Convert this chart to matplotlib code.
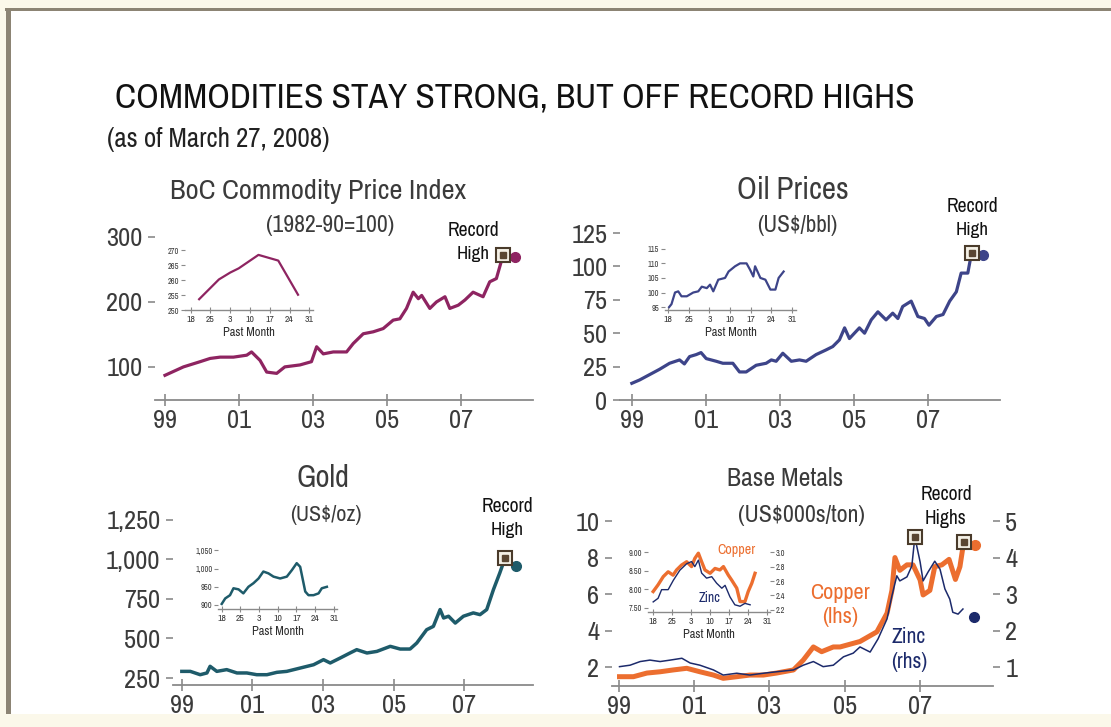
import matplotlib
matplotlib.use("Agg")
import matplotlib.pyplot as plt
from matplotlib import font_manager
from matplotlib.patches import Rectangle
from matplotlib.ticker import FuncFormatter

# prefer a narrow face if one is installed
_names = sorted({f.name for f in font_manager.fontManager.ttflist})
_narrow = [n for n in _names if 'Narrow' in n or 'Condensed' in n]
plt.rcParams['font.family'] = (_narrow[:1] or []) + ['DejaVu Sans']
plt.rcParams['font.stretch'] = 'condensed'

# ---- data -------------------------------------------------------------
years_ticks = [1999, 2001, 2003, 2005, 2007]
year_labels = ['99', '01', '03', '05', '07']
day_ticks = [0, 7, 14, 21, 28, 35, 42]          # days since Feb 18, 2008
day_labels = ['18', '25', '3', '10', '17', '24', '31']

boc_t = [1999.0, 1999.5, 1999.95, 2000.22, 2000.49, 2000.85, 2001.21, 2001.34, 2001.57,
         2001.75, 2002.02, 2002.24, 2002.65, 2002.96, 2003.1, 2003.28, 2003.55, 2003.91,
         2004.09, 2004.36, 2004.63, 2004.9, 2005.17, 2005.35, 2005.53, 2005.71, 2005.85,
         2005.94, 2006.16, 2006.34, 2006.57, 2006.7, 2006.93, 2007.11, 2007.33, 2007.6,
         2007.78, 2007.96, 2008.14]
boc_v = [87, 100, 108, 113, 115, 115, 118, 123, 110, 92, 90, 100, 103, 108, 131, 120, 123,
         123, 136, 151, 154, 159, 172, 174, 190, 215, 205, 210, 190, 200, 208, 190, 195, 203,
         215, 208, 231, 236, 272]
boc_latest = (2008.46, 269)
boc_day = [3, 10, 14, 17, 24, 31, 38]
boc_day_v = [253.6, 260.2, 262.5, 263.9, 268.4, 266.5, 255.1]

oil_t = [1999.0, 1999.21, 1999.48, 1999.75, 2000.02, 2000.29, 2000.42, 2000.56, 2000.74,
         2000.87, 2001.01, 2001.28, 2001.46, 2001.73, 2001.91, 2002.09, 2002.36, 2002.63,
         2002.77, 2002.9, 2003.08, 2003.31, 2003.53, 2003.71, 2003.98, 2004.25, 2004.43,
         2004.61, 2004.75, 2004.88, 2005.15, 2005.29, 2005.47, 2005.65, 2005.87, 2006.05,
         2006.19, 2006.32, 2006.55, 2006.73, 2006.91, 2007.03, 2007.23, 2007.41, 2007.59,
         2007.77, 2007.9, 2008.08, 2008.18]
oil_v = [12.5, 15, 19, 23, 27.5, 30, 27, 32.5, 34, 35.5, 31, 29, 27.5, 27.5, 21, 21, 26,
         27.5, 30, 29, 35, 29, 30, 29, 34, 37.5, 40, 45, 54, 46, 54, 50, 60, 66, 60, 65, 61,
         70, 74, 62.5, 61, 56, 62.5, 64, 74, 81, 95, 95, 110]
oil_latest = (2008.49, 108.8)
oil_day = [0.3, 1.1, 2.3, 3.4, 4.5, 6.3, 8.5, 10.2, 11.4, 13.1, 14.2, 15.3, 17.0, 19.3,
           20.5, 22.7, 24.4, 26.6, 27.8, 28.9, 29.5, 31.3, 33.0, 34.7, 36.4, 37.5, 39.2]
oil_day_v = [95, 96, 100, 100.4, 98.7, 98.7, 100, 100.4, 102, 101.5, 102.7, 100.4, 104.4,
             105, 107.2, 109, 110, 110, 107.8, 105.5, 109, 105, 104.4, 101, 101, 105, 107.2]

gold_t = [1999.0, 1999.24, 1999.52, 1999.71, 1999.8, 1999.99, 2000.27, 2000.56, 2000.84,
          2001.12, 2001.41, 2001.69, 2001.97, 2002.35, 2002.73, 2003.01, 2003.2, 2003.48,
          2003.76, 2003.95, 2004.24, 2004.52, 2004.9, 2005.18, 2005.46, 2005.65, 2005.93,
          2006.12, 2006.31, 2006.41, 2006.55, 2006.74, 2006.97, 2007.25, 2007.44, 2007.63,
          2007.82, 2008.0, 2008.15]
gold_v = [292, 292, 271, 282, 324, 292, 303, 282, 282, 271, 271, 286, 292, 313, 334, 366,
          345, 376, 408, 429, 408, 418, 450, 433, 433, 471, 555, 576, 682, 629, 640, 597,
          640, 661, 650, 682, 808, 913, 1008]
gold_latest = (2008.46, 957)
gold_day = [0, 1.3, 3.1, 4.4, 6.3, 8.1, 10.0, 11.9, 13.8, 15.6, 17.5, 19.4, 21.9, 24.4,
            26.3, 28.1, 29.4, 31.3, 32.5, 34.4, 36.3, 37.5, 39.4]
gold_day_v = [903, 918, 927, 946, 943, 932, 950, 960, 973, 992, 987, 978, 973, 978, 996,
              1015, 1005, 937, 927, 927, 932, 946, 950]

copper_t = [1999.01, 1999.38, 1999.74, 2000.09, 2000.44, 2000.8, 2001.15, 2001.51, 2001.77,
            2002.13, 2002.48, 2002.84, 2003.19, 2003.64, 2003.9, 2004.17, 2004.39, 2004.7,
            2004.88, 2005.41, 2005.86, 2006.13, 2006.26, 2006.34, 2006.47, 2006.66, 2006.82,
            2007.01, 2007.09, 2007.27, 2007.4, 2007.59, 2007.78, 2007.95, 2008.07, 2008.17]
copper_v = [1.47, 1.47, 1.67, 1.74, 1.84, 1.93, 1.74, 1.56, 1.38, 1.47, 1.56, 1.56, 1.67,
            1.84, 2.38, 3.1, 2.84, 3.1, 3.1, 3.4, 3.93, 4.95, 6.2, 8.0, 7.3, 7.6, 7.6, 6.77,
            5.95, 6.2, 7.5, 7.6, 7.9, 6.8, 7.5, 8.85]
copper_latest = (2008.47, 8.68)

zinc_t = [1999.01, 1999.29, 1999.56, 1999.82, 2000.09, 2000.36, 2000.67, 2000.89, 2001.15,
          2001.51, 2001.77, 2002.13, 2002.48, 2002.84, 2003.19, 2003.64, 2003.9, 2004.17,
          2004.43, 2004.7, 2004.97, 2005.23, 2005.41, 2005.68, 2005.89, 2006.13, 2006.26,
          2006.39, 2006.47, 2006.66, 2006.79, 2006.87, 2007.01, 2007.09, 2007.22, 2007.4,
          2007.54, 2007.67, 2007.8, 2007.88, 2008.02, 2008.15]
zinc_v = [1.01, 1.05, 1.15, 1.19, 1.15, 1.19, 1.24, 1.11, 1.05, 0.92, 0.78, 0.83, 0.78,
          0.83, 0.87, 0.92, 1.05, 1.15, 1.01, 1.05, 1.28, 1.38, 1.55, 1.41, 1.77, 2.32,
          2.95, 3.5, 3.36, 3.47, 3.77, 4.56, 3.88, 3.36, 3.6, 3.9, 3.68, 3.14, 2.86, 2.5,
          2.45, 2.59]
zinc_latest = (2008.44, 2.37)

copper_day = [0.1, 1.9, 3.8, 5.6, 7.4, 8.7, 10.5, 12.4, 14.2, 15.4, 16.7, 17.9, 19.1, 21.0,
              22.8, 24.6, 25.9, 27.7, 28.9, 30.8, 32.0, 33.8, 35.0, 36.3, 37.5]
copper_day_v = [7.94, 8.12, 8.34, 8.47, 8.38, 8.52, 8.65, 8.74, 8.61, 8.83, 8.97, 8.74,
                8.52, 8.43, 8.56, 8.52, 8.61, 8.38, 8.25, 8.03, 7.67, 7.67, 7.94, 8.16, 8.43]
zinc_day = [0.1, 1.9, 3.2, 5.6, 7.5, 9.9, 12.4, 14.2, 15.4, 16.7, 17.9, 19.7, 21.6, 23.4,
            25.3, 26.5, 28.3, 30.1, 32.0, 33.8, 35.7]
zinc_day_v = [2.31, 2.36, 2.48, 2.48, 2.61, 2.75, 2.84, 2.87, 2.80, 2.89, 2.71, 2.64, 2.66,
              2.57, 2.50, 2.54, 2.38, 2.27, 2.25, 2.29, 2.27]

# ---- figure -----------------------------------------------------------
W, H = 1111, 727
fig = plt.figure(figsize=(W / 100, H / 100), dpi=100)
fig.patch.set_facecolor('white')
renderer = fig.canvas.get_renderer()

CREAM = '#fbf8ea'
BORDER = '#8c8474'
TXT = '#3b3b3b'
TICK = '#8a8a8a'
MAIN_FS = 19


def box(x0, y0, x1, y1):
    # pixel box (top-left origin) -> figure fraction rect
    return [x0 / W, 1 - y1 / H, (x1 - x0) / W, (y1 - y0) / H]


def frect(x0, y0, x1, y1, color):
    fig.patches.append(Rectangle((x0 / W, 1 - y1 / H), (x1 - x0) / W, (y1 - y0) / H,
                                 transform=fig.transFigure, color=color, lw=0, zorder=0))


def ftext(x, y, s, width=None, **kw):
    # place text by pixel position; optionally size it to a pixel width
    kw.setdefault('ha', 'center')
    kw.setdefault('va', 'center')
    kw.setdefault('color', TXT)
    t = fig.text(x / W, 1 - y / H, s, **kw)
    if width:
        w = t.get_window_extent(renderer=renderer).width
        t.set_fontsize(t.get_fontsize() * width / w)
    return t


# frame
frect(0, 0, W, 8, CREAM)
frect(0, 0, 6, H, CREAM)
frect(0, 714, W, H, CREAM)
frect(5, 8, W, 11, BORDER)
frect(6, 8, 11, 714, BORDER)

ftext(115, 98, 'COMMODITIES STAY STRONG, BUT OFF RECORD HIGHS', width=800, ha='left',
      fontsize=27, color='#111111')
ftext(107, 139, '(as of March 27, 2008)', width=223, ha='left', fontsize=15,
      color='#222222')


def style_main(ax, xlim, ylim, yticks, ylabels):
    ax.set_xlim(*xlim)
    ax.set_ylim(*ylim)
    ax.patch.set_alpha(0)
    for s in ('top', 'right', 'left'):
        ax.spines[s].set_visible(False)
    ax.spines['bottom'].set_color(TICK)
    ax.spines['bottom'].set_linewidth(1.3)
    ax.set_xticks(years_ticks)
    ax.set_xticklabels(year_labels)
    ax.set_yticks(yticks)
    ax.set_yticklabels(ylabels)
    ax.tick_params(axis='x', direction='inout', length=9, width=1.2, color=TICK,
                   labelsize=MAIN_FS, labelcolor=TXT, pad=2)
    ax.tick_params(axis='y', direction='out', length=5, width=1.2, color=TICK,
                   labelsize=MAIN_FS, labelcolor=TXT, pad=4)


def style_inset(ax, ylim, yticks, ylabels):
    ax.set_xlim(-2, 43.3)
    ax.set_ylim(*ylim)
    ax.patch.set_alpha(0)
    for s in ('top', 'right', 'left'):
        ax.spines[s].set_visible(False)
    ax.spines['bottom'].set_color(TICK)
    ax.spines['bottom'].set_linewidth(1.0)
    ax.set_xticks(day_ticks)
    ax.set_xticklabels(day_labels)
    ax.set_yticks(yticks)
    ax.set_yticklabels(ylabels)
    ax.tick_params(axis='x', direction='inout', length=5, width=0.8, color=TICK,
                   labelsize=7, labelcolor=TXT, pad=1)
    ax.tick_params(axis='y', direction='out', length=3, width=0.8, color=TICK,
                   labelsize=6, labelcolor=TXT, pad=1)
    ax.set_xlabel('Past Month', fontsize=9, color='#2e2e2e', labelpad=2)


def record(ax, x, y):
    ax.plot([x], [y], marker='s', ms=10, mfc='#f4f0e6', mec='#4a3b2b', mew=1.5,
            ls='none', zorder=6)
    ax.plot([x], [y], marker='s', ms=4, color='#5a4632', ls='none', zorder=7)


def record_label(x, y, word):
    ftext(x, y, 'Record', width=52, fontsize=13, color='#111111')
    ftext(x, y + 24, word, width=33 if word == 'High' else 42, fontsize=13,
          color='#111111')


# BoC commodity price index
c_boc = '#8e2461'
ax = fig.add_axes(box(155, 224, 533, 400))
style_main(ax, (1998.73, 2008.95), (49, 320), [100, 200, 300], ['100', '200', '300'])
ax.plot(boc_t, boc_v, color=c_boc, lw=2.3)
ax.plot(*boc_latest, 'o', color=c_boc, ms=7)
record(ax, boc_t[-1], boc_v[-1])
ins = fig.add_axes(box(185, 245, 313, 310))
style_inset(ins, (250, 271.7), [250, 255, 260, 265, 270],
            ['250', '255', '260', '265', '270'])
ins.plot(boc_day, boc_day_v, color=c_boc, lw=1.6)
ftext(318, 191, 'BoC Commodity Price Index', width=296, fontsize=19)
ftext(330, 226, '(1982-90=100)', width=128, fontsize=13)
record_label(473, 230, 'High')

# Oil prices
c_oil = '#3d4489'
ax = fig.add_axes(box(620, 225, 1000, 400))
style_main(ax, (1998.68, 2008.95), (0, 131), [0, 25, 50, 75, 100, 125],
           ['0', '25', '50', '75', '100', '125'])
ax.plot(oil_t, oil_v, color=c_oil, lw=2.3)
ax.plot(*oil_latest, 'o', color=c_oil, ms=7)
record(ax, oil_t[-1], oil_v[-1])
ins = fig.add_axes(box(665, 245, 796, 310))
style_inset(ins, (94, 116.3), [95, 100, 105, 110, 115], ['95', '100', '105', '110', '115'])
ins.set_xlim(-1.1, 43.4)
ins.plot(oil_day, oil_day_v, color=c_oil, lw=1.6)
ftext(793, 190, 'Oil Prices', width=112, fontsize=19)
ftext(797, 226, '(US$/bbl)', width=81, fontsize=13)
record_label(972, 206, 'High')

# Gold
c_gold = '#1e5b6a'
ax = fig.add_axes(box(173, 505, 533, 685))
style_main(ax, (1998.75, 2008.94), (206, 1342), [250, 500, 750, 1000, 1250],
           ['250', '500', '750', '1,000', '1,250'])
ax.plot(gold_t, gold_v, color=c_gold, lw=2.5)
ax.plot(*gold_latest, 'o', color=c_gold, ms=7)
record(ax, gold_t[-1], gold_v[-1])
ins = fig.add_axes(box(218, 545, 337, 609))
style_inset(ins, (889, 1065), [900, 950, 1000, 1050], ['900', '950', '1,000', '1,050'])
ins.set_xlim(-1.4, 43.2)
ins.plot(gold_day, gold_day_v, color=c_gold, lw=1.8)
ftext(323, 478, 'Gold', width=53, fontsize=19)
ftext(326, 515, '(US$/oz)', width=72, fontsize=13)
record_label(507, 506, 'High')

# Base metals: copper (lhs) and zinc (rhs)
c_cu = '#ec6e2f'
c_zn = '#1c2a6b'
ax = fig.add_axes(box(612, 505, 993, 686))
style_main(ax, (1998.81, 2008.95), (0.96, 10.88), [2, 4, 6, 8, 10],
           ['2', '4', '6', '8', '10'])
ax.plot(copper_t, copper_v, color=c_cu, lw=3.6, solid_joinstyle='round')
ax.plot(*copper_latest, 'o', color=c_cu, ms=7)
ax2 = ax.twinx()
ax2.set_ylim(0.48, 5.44)
ax2.set_xlim(1998.81, 2008.95)
for s in ('top', 'right', 'left', 'bottom'):
    ax2.spines[s].set_visible(False)
ax2.set_yticks([1, 2, 3, 4, 5])
ax2.tick_params(axis='y', direction='out', length=5, width=1.2, color=TICK,
                labelsize=MAIN_FS, labelcolor=TXT, pad=4)
ax2.plot(zinc_t, zinc_v, color=c_zn, lw=1.1)
ax2.plot(*zinc_latest, 'o', color=c_zn, ms=7)
record(ax2, zinc_t[zinc_v.index(max(zinc_v))], max(zinc_v))
record(ax, copper_t[-1], copper_v[-1])

ins = fig.add_axes(box(648, 545, 770, 612))
style_inset(ins, (7.39, 9.19), [7.5, 8.0, 8.5, 9.0], ['7.50', '8.00', '8.50', '9.00'])
ins.set_xlim(-1.8, 43)
ins.plot(copper_day, copper_day_v, color=c_cu, lw=2.4)
ins2 = ins.twinx()
ins2.set_ylim(2.17, 3.1)
for s in ('top', 'right', 'left', 'bottom'):
    ins2.spines[s].set_visible(False)
ins2.set_yticks([2.2, 2.4, 2.6, 2.8, 3.0])
ins2.yaxis.set_major_formatter(FuncFormatter(lambda v, p: f'{v:.1f}'))
ins2.tick_params(axis='y', direction='out', length=3, width=0.8, color=TICK,
                 labelsize=6, labelcolor=TXT, pad=1)
ins2.plot(zinc_day, zinc_day_v, color=c_zn, lw=1.0)

ftext(785, 478, 'Base Metals', width=116, fontsize=19)
ftext(801, 515, '(US$000s/ton)', width=127, fontsize=13)
record_label(946, 495, 'Highs')
ftext(736, 550, 'Copper', width=38, fontsize=10, color=c_cu)
ftext(710, 598, 'Zinc', width=22, fontsize=10, color=c_zn)
ftext(840, 593, 'Copper', width=60, fontsize=14, color=c_cu)
ftext(840, 617, '(lhs)', width=36, fontsize=14, color=c_cu)
ftext(909, 637, 'Zinc', width=34, fontsize=14, color=c_zn)
ftext(909, 662, '(rhs)', width=36, fontsize=14, color=c_zn)

fig.savefig('out.png', dpi=100, facecolor=fig.get_facecolor())
